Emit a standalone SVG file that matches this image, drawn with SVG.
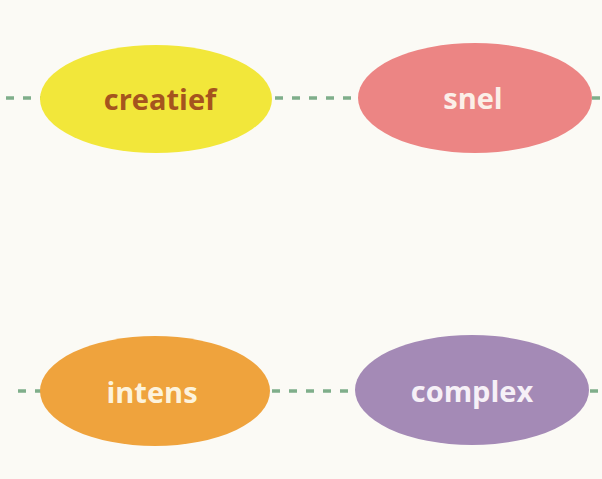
<svg xmlns="http://www.w3.org/2000/svg" width="602" height="479" viewBox="0 0 602 479">
<style>
.lbl{font-family:"Open Sans","Liberation Sans",sans-serif;font-weight:bold;font-size:29px;text-anchor:middle;dominant-baseline:central}
.dash{stroke:#7fae8a;stroke-width:3.5;stroke-dasharray:8 9;fill:none}
</style>
<rect width="602" height="479" fill="#fbfaf5"/>
<g id="connectors">
<line class="dash" x1="6" y1="98" x2="42" y2="98"/>
<line class="dash" x1="275" y1="98" x2="358" y2="98"/>
<line class="dash" x1="592" y1="98" x2="602" y2="98"/>
<line class="dash" x1="18" y1="391" x2="42" y2="391"/>
<line class="dash" x1="272" y1="391" x2="356" y2="391"/>
<line class="dash" x1="590" y1="391" x2="602" y2="391"/>
</g>
<g id="creatief">
<ellipse cx="156" cy="99" rx="116" ry="54" fill="#f2e73a"/>
<text class="lbl" x="160" y="98" fill="#a5541e">creatief</text>
</g>
<g id="snel">
<ellipse cx="475" cy="98" rx="117" ry="55" fill="#ec8584"/>
<text class="lbl" x="473" y="97" fill="#fbefe8">snel</text>
</g>
<g id="intens">
<ellipse cx="155" cy="391" rx="115" ry="55" fill="#efa33d"/>
<text class="lbl" x="152" y="391" fill="#fdf3dc">intens</text>
</g>
<g id="complex">
<ellipse cx="472" cy="390" rx="117" ry="55" fill="#a48ab6"/>
<text class="lbl" x="472" y="390" fill="#f6f0f7">complex</text>
</g>
</svg>
